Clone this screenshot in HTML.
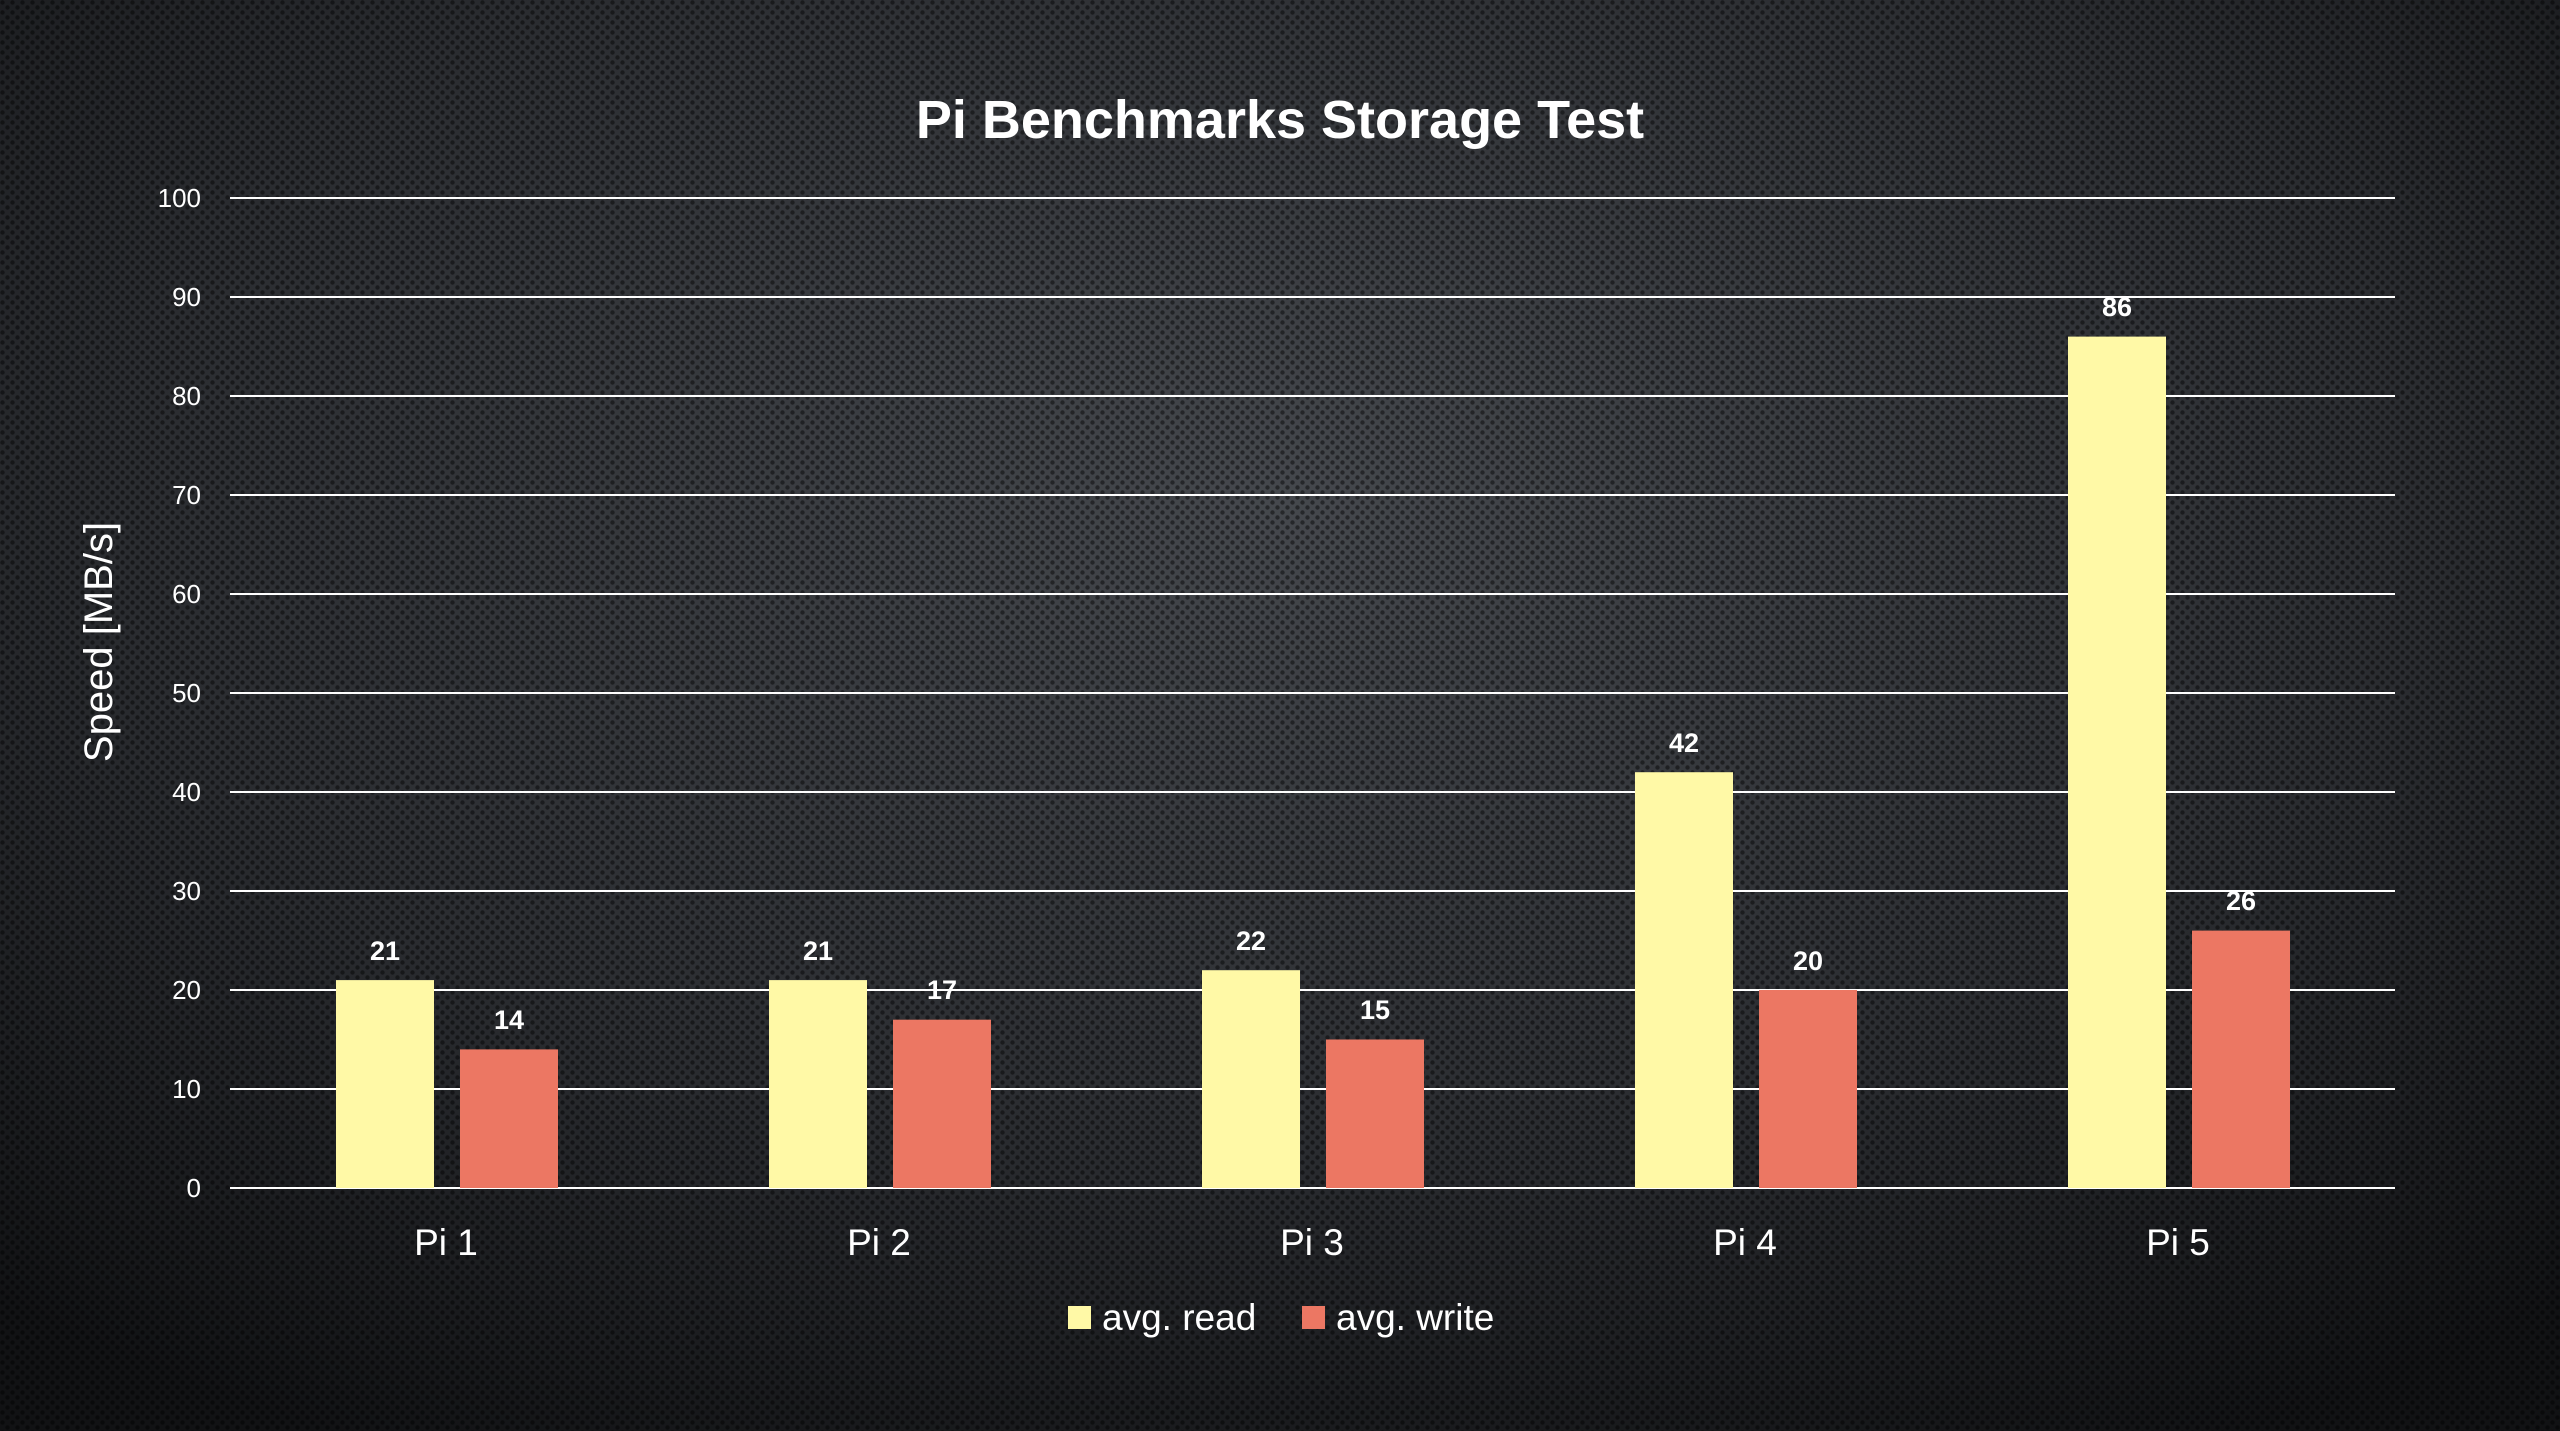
<!DOCTYPE html>
<html><head><meta charset="utf-8"><style>
html,body{margin:0;padding:0;background:#1a1b1d}
svg{display:block}
text{font-family:"Liberation Sans",sans-serif;fill:#fff}
</style></head><body>
<svg width="2560" height="1431" viewBox="0 0 2560 1431" xmlns="http://www.w3.org/2000/svg">
<defs>
<radialGradient id="bg" cx="50%" cy="35%" r="75%">
<stop offset="0" stop-color="#45484d"/>
<stop offset="0.6" stop-color="#2a2c30"/>
<stop offset="1" stop-color="#111214"/>
</radialGradient>
<pattern id="dots" width="10" height="10" patternUnits="userSpaceOnUse">
<circle cx="2.5" cy="2.5" r="2.2" fill="#000" opacity="0.45"/>
<circle cx="7.5" cy="7.5" r="2.2" fill="#000" opacity="0.45"/>
</pattern>
</defs>
<rect width="2560" height="1431" fill="url(#bg)"/>
<rect width="2560" height="1431" fill="url(#dots)"/>
<text x="1280" y="138" text-anchor="middle" font-size="54" font-weight="bold">Pi Benchmarks Storage Test</text>
<g stroke="#fff" stroke-width="2">
<line x1="230" x2="2395" y1="198" y2="198"/>
<line x1="230" x2="2395" y1="297" y2="297"/>
<line x1="230" x2="2395" y1="396" y2="396"/>
<line x1="230" x2="2395" y1="495" y2="495"/>
<line x1="230" x2="2395" y1="594" y2="594"/>
<line x1="230" x2="2395" y1="693" y2="693"/>
<line x1="230" x2="2395" y1="792" y2="792"/>
<line x1="230" x2="2395" y1="891" y2="891"/>
<line x1="230" x2="2395" y1="990" y2="990"/>
<line x1="230" x2="2395" y1="1089" y2="1089"/>
<line x1="230" x2="2395" y1="1188" y2="1188"/>
</g>
<g font-size="26" text-anchor="end">
<text x="201" y="207">100</text><text x="201" y="306">90</text><text x="201" y="405">80</text>
<text x="201" y="504">70</text><text x="201" y="603">60</text><text x="201" y="702">50</text>
<text x="201" y="801">40</text><text x="201" y="900">30</text><text x="201" y="999">20</text>
<text x="201" y="1098">10</text><text x="201" y="1197">0</text>
</g>
<text transform="translate(112,642) rotate(-90)" text-anchor="middle" font-size="40">Speed [MB/s]</text>
<!-- bars: y = 1188 - v*9.9 -->
<g>
<rect x="336" y="980.1" width="98" height="207.9" fill="#fff9a6"/>
<rect x="460" y="1049.4" width="98" height="138.6" fill="#ec7763"/>
<rect x="769" y="980.1" width="98" height="207.9" fill="#fff9a6"/>
<rect x="893" y="1019.7" width="98" height="168.3" fill="#ec7763"/>
<rect x="1202" y="970.2" width="98" height="217.8" fill="#fff9a6"/>
<rect x="1326" y="1039.5" width="98" height="148.5" fill="#ec7763"/>
<rect x="1635" y="772.2" width="98" height="415.8" fill="#fff9a6"/>
<rect x="1759" y="990" width="98" height="198" fill="#ec7763"/>
<rect x="2068" y="336.6" width="98" height="851.4" fill="#fff9a6"/>
<rect x="2192" y="930.6" width="98" height="257.4" fill="#ec7763"/>
</g>
<g font-size="27" font-weight="bold" text-anchor="middle">
<text x="385" y="960">21</text><text x="509" y="1029">14</text>
<text x="818" y="960">21</text><text x="942" y="999">17</text>
<text x="1251" y="950">22</text><text x="1375" y="1019">15</text>
<text x="1684" y="752">42</text><text x="1808" y="970">20</text>
<text x="2117" y="316">86</text><text x="2241" y="910">26</text>
</g>
<g font-size="37" text-anchor="middle">
<text x="446" y="1255">Pi 1</text><text x="879" y="1255">Pi 2</text><text x="1312" y="1255">Pi 3</text>
<text x="1745" y="1255">Pi 4</text><text x="2178" y="1255">Pi 5</text>
</g>
<rect x="1068" y="1306" width="23" height="23" fill="#fff9a6"/>
<text x="1102" y="1330" font-size="37">avg. read</text>
<rect x="1302" y="1306" width="23" height="23" fill="#ec7763"/>
<text x="1336" y="1330" font-size="37">avg. write</text>
</svg>
</body></html>
